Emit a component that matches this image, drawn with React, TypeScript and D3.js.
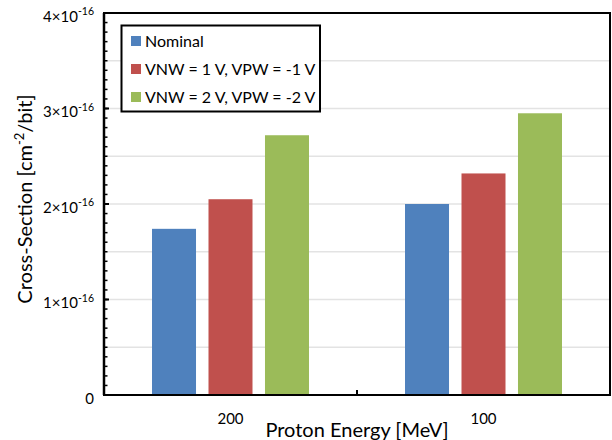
import React from 'react'
import * as d3 from 'd3'

// data
const categories = ['200', '100']
const seriesNames = ['Nominal', 'VNW = 1 V, VPW = -1 V', 'VNW = 2 V, VPW = -2 V']
const nominal = [1.74e-16, 2.0e-16]
const vnw1 = [2.05e-16, 2.32e-16]
const vnw2 = [2.72e-16, 2.95e-16]
const yMajorTicks = [0, 1e-16, 2e-16, 3e-16, 4e-16]

const colors = ['#4F81BD', '#C0504D', '#9BBB59']
const font = 'Lato, "Open Sans", sans-serif'

const W = 612, H = 440
const margin = { top: 13, right: 2, bottom: 45, left: 104 }
const left = margin.left, right = W - margin.right
const top = margin.top, bottom = H - margin.bottom

const App = () => {
    const values = [nominal, vnw1, vnw2]

    const x = d3.scaleBand().domain(categories).range([left, right]).padding(0)
    const xs = d3.scaleBand()
        .domain(seriesNames)
        .range([0, x.bandwidth()])
        .paddingInner(0.221)
        .paddingOuter(0.85)
    const y = d3.scaleLinear().domain([0, 4e-16]).range([bottom, top])

    const grid = y.ticks(8).filter(t => t > 0 && t < 4e-16)
    const minor = y.ticks(40)

    const mantissa = (v: number) => Math.round(v / 1e-16)

    return (
        <svg width={W} height={H} style={{ position: 'fixed', left: 0, top: 0, background: '#fff' }}
            fontFamily={font}>
            <rect x={0} y={0} width={W} height={H} fill="#fff" />

            {/* gridlines */}
            {grid.map((t, i) => (
                <line key={'g' + i} x1={left} x2={right} y1={y(t)} y2={y(t)} stroke="#e3e3e3" strokeWidth={1.5} />
            ))}

            {/* bars */}
            {seriesNames.map((s, si) => (
                <g key={s}>
                    {categories.map((c, ci) => (
                        <rect key={c}
                            x={(x(c) as number) + (xs(s) as number)}
                            y={y(values[si][ci])}
                            width={xs.bandwidth()}
                            height={bottom - y(values[si][ci])}
                            fill={colors[si]} />
                    ))}
                </g>
            ))}

            {/* frame */}
            <rect x={left} y={top} width={right - left} height={bottom - top} fill="none" stroke="#000" strokeWidth={2} />
            <line x1={left} x2={left} y1={top} y2={bottom} stroke="#000" strokeWidth={2.5} />

            {/* y ticks, pointing inwards */}
            {minor.map((t, i) => (
                <line key={'m' + i} x1={left} x2={left + 3.5} y1={y(t)} y2={y(t)} stroke="#000" strokeWidth={1.5} />
            ))}
            {yMajorTicks.map((t, i) => (
                <line key={'M' + i} x1={left} x2={left + 5} y1={y(t)} y2={y(t)} stroke="#000" strokeWidth={2} />
            ))}

            {/* x ticks at category boundaries */}
            {[...categories.map(c => x(c) as number), right].map((v, i) => (
                <line key={'xt' + i} x1={v} x2={v} y1={bottom} y2={bottom - 5} stroke="#000" strokeWidth={2} />
            ))}

            {/* y tick labels */}
            {yMajorTicks.map((t, i) => (
                <text key={'yl' + i} x={left - 10} y={y(t) + 8.5} textAnchor="end" fontSize={15} fill="#000">
                    {t === 0 ? '0' : (
                        <>
                            <tspan>{mantissa(t) + '\u00d710'}</tspan>
                            <tspan fontSize={10.5} dy={-6.5}>-16</tspan>
                        </>
                    )}
                </text>
            ))}

            {/* x tick labels */}
            {categories.map(c => (
                <text key={'xl' + c} x={(x(c) as number) + x.bandwidth() / 2} y={423.5}
                    textAnchor="middle" fontSize={15} fill="#000">{c}</text>
            ))}

            {/* axis titles */}
            <text x={(left + right) / 2} y={437} textAnchor="middle" fontSize={20} fill="#000">Proton Energy [MeV]</text>
            <text transform={`translate(32,199) rotate(-90)`} textAnchor="middle" fontSize={20} fill="#000">
                <tspan>Cross-Section [cm</tspan>
                <tspan fontSize={13} dy={-8}>-2</tspan>
                <tspan dy={8}>/bit]</tspan>
            </text>

            {/* legend */}
            <g>
                <rect x={121.5} y={25.5} width={198.5} height={86} fill="#fff" stroke="#000" strokeWidth={2} />
                {seriesNames.map((s, i) => (
                    <g key={'lg' + i}>
                        <rect x={131} y={36 + i * 28} width={10} height={10} fill={colors[i]} />
                        <text x={145} y={47 + i * 28} fontSize={16} fill="#000">{s}</text>
                    </g>
                ))}
            </g>
        </svg>
    )
}

export default App
